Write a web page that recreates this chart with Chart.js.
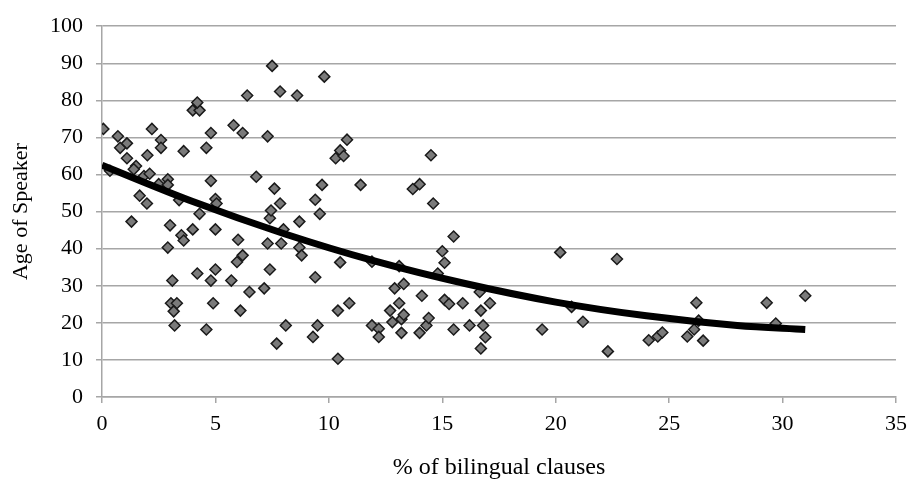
<!DOCTYPE html>
<html>
<head>
<meta charset="utf-8">
<script src="https://cdn.jsdelivr.net/npm/chart.js"></script>
<style>
  html, body { margin: 0; padding: 0; background: #fff; }
  #chart { display: block; }
</style>
</head>
<body>
<canvas id="chart" width="915" height="479"></canvas>
<script>
// % of bilingual clauses per speaker
var clausePct = [
  0.06, 0.35, 0.7, 0.8, 1.1, 1.1, 1.5, 1.4, 1.3, 1.66, 1.85, 1.98, 2.0, 2.1, 2.2, 2.5, 2.6, 2.6, 2.9, 2.9,
  2.9, 3.0, 3.04, 3.3, 3.16, 3.1, 3.2, 3.4, 3.5, 3.6, 3.6, 4.0, 4.0, 4.3, 4.2, 4.3, 4.2, 4.6, 4.6, 4.8,
  4.8, 4.8, 4.9, 5.0, 5.05, 5.0, 5.0, 5.7, 5.8, 5.95, 6.0, 6.1, 6.2, 6.2, 6.4, 6.5, 6.8, 7.15, 7.3, 7.3,
  7.4, 7.45, 7.4, 7.5, 7.6, 7.7, 7.85, 7.85, 7.9, 8.0, 8.1, 8.6, 8.7, 8.7, 8.8, 9.3, 9.4, 9.4, 9.5, 9.6,
  9.7, 9.8, 10.3, 10.4, 10.4, 10.5, 10.5, 10.65, 10.8, 10.9, 11.4, 11.9, 11.9, 12.2, 12.2, 12.7, 12.8, 12.9, 13.1, 13.1,
  13.2, 13.2, 13.3, 13.3, 13.7, 14.0, 14.0, 14.1, 14.3, 14.4, 14.5, 14.6, 14.8, 15.0, 15.1, 15.1, 15.3, 15.5, 15.5, 15.9,
  16.2, 16.65, 16.7, 16.7, 16.8, 16.9, 17.1, 19.4, 20.2, 20.7, 21.2, 22.3, 22.7, 24.1, 24.5, 24.7, 25.8, 26.1, 26.2, 26.3,
  26.5, 29.3, 29.7, 31.0
];

// age of each speaker, same order as clausePct
var speakerAge = [
  72.3, 61, 70.3, 67.2, 68.4, 64.4, 62.3, 61.4, 47.3, 54.3, 59.6, 52.2, 65.2, 60.2, 72.3, 57.4, 69.3, 67.2, 58.7, 57.2,
  40.3, 46.3, 25.3, 25.3, 23.1, 31.4, 19.3, 53.1, 43.6, 42.2, 66.3, 45.2, 77.3, 77.3, 79.4, 49.4, 33.3, 67.2, 18.2, 71.2,
  58.3, 31.4, 25.3, 53.4, 52.2, 45.2, 34.4, 31.4, 73.3, 36.4, 42.4, 23.3, 71.2, 38.2, 81.3, 28.3, 59.4, 29.3, 70.3, 41.4,
  48.2, 50.3, 34.4, 89.3, 56.2, 14.4, 82.4, 52.2, 41.4, 45.2, 19.3, 81.3, 47.3, 40.3, 38.2, 16.2, 53.2, 32.3, 19.3, 49.4,
  57.2, 86.4, 64.4, 23.3, 10.3, 66.5, 36.3, 65.0, 69.4, 25.3, 57.2, 36.5, 19.3, 18.4, 16.2, 23.3, 20.2, 29.3, 35.3, 25.3,
  17.3, 21.0, 22.2, 30.5, 56.1, 57.4, 17.3, 27.3, 19.3, 21.3, 65.2, 52.2, 33.3, 39.3, 36.2, 26.2, 25.1, 43.3, 18.2, 25.3,
  19.3, 28.3, 23.3, 13.1, 19.3, 16.1, 25.3, 18.2, 39, 24.3, 20.3, 12.3, 37.2, 15.3, 16.3, 17.4, 16.3, 18.2, 25.4, 20.6,
  15.2, 25.4, 19.8, 27.3
];

// trend curve at a few x positions
var trendX = [0, 4, 8, 12, 16, 20, 24, 28, 31];
var trendY = [62.5, 52.7, 44.1, 36.7, 30.6, 25.6, 21.9, 19.3, 18.2];

var xTicks = [0, 5, 10, 15, 20, 25, 30, 35];
var yTicks = [0, 10, 20, 30, 40, 50, 60, 70, 80, 90, 100];

var scatterPoints = clausePct.map(function (x, i) {
    return { x: x, y: speakerAge[i] };
});
var trendPoints = trendX.map(function (x, i) {
    return { x: x, y: trendY[i] };
});

var gridGray = '#a6a6a6';
var serif = '"Liberation Serif", "Times New Roman", serif';

new Chart(document.getElementById('chart'), {
    type: 'scatter',
    data: {
        datasets: [{
            // trend line first so it sits on top of the markers
            type: 'line',
            data: trendPoints,
            borderColor: '#000',
            borderWidth: 7,
            pointRadius: 0,
            fill: false,
            cubicInterpolationMode: 'monotone',
            borderCapStyle: 'butt'
        }, {
            data: scatterPoints,
            pointStyle: 'rectRot',
            pointRadius: 5.5,
            backgroundColor: '#7a7a7a',
            borderColor: '#1a1a1a',
            borderWidth: 1.5
        }]
    },
    options: {
        responsive: false,
        animation: false,
        layout: { padding: { top: 24, right: 11, left: 0, bottom: 0 } },
        plugins: { legend: { display: false }, tooltip: { enabled: false } },
        scales: {
            x: {
                type: 'linear',
                min: 0,
                max: 35,
                afterBuildTicks: function (scale) {
                    scale.ticks = xTicks.map(function (v) { return { value: v }; });
                },
                afterFit: function (scale) { scale.height = 82; },
                border: { color: gridGray, width: 1.5 },
                grid: { drawOnChartArea: false, color: gridGray, lineWidth: 1.5, tickLength: 6 },
                ticks: { color: '#000', padding: 8, font: { family: serif, size: 22 } },
                title: {
                    display: true,
                    text: '% of bilingual clauses',
                    color: '#000',
                    font: { family: serif, size: 24 },
                    padding: { top: 0, bottom: -3 }
                }
            },
            y: {
                min: 0,
                max: 100,
                afterBuildTicks: function (scale) {
                    scale.ticks = yTicks.map(function (v) { return { value: v }; });
                },
                afterFit: function (scale) { scale.width = 102; },
                border: { color: gridGray, width: 1.5 },
                grid: { color: gridGray, lineWidth: 1.5, tickLength: 6 },
                ticks: { color: '#000', padding: 13, font: { family: serif, size: 22 } },
                title: {
                    display: true,
                    text: 'Age of Speaker',
                    color: '#000',
                    font: { family: serif, size: 22 },
                    padding: { top: 8, bottom: 0 }
                }
            }
        }
    }
});
</script>
</body>
</html>
